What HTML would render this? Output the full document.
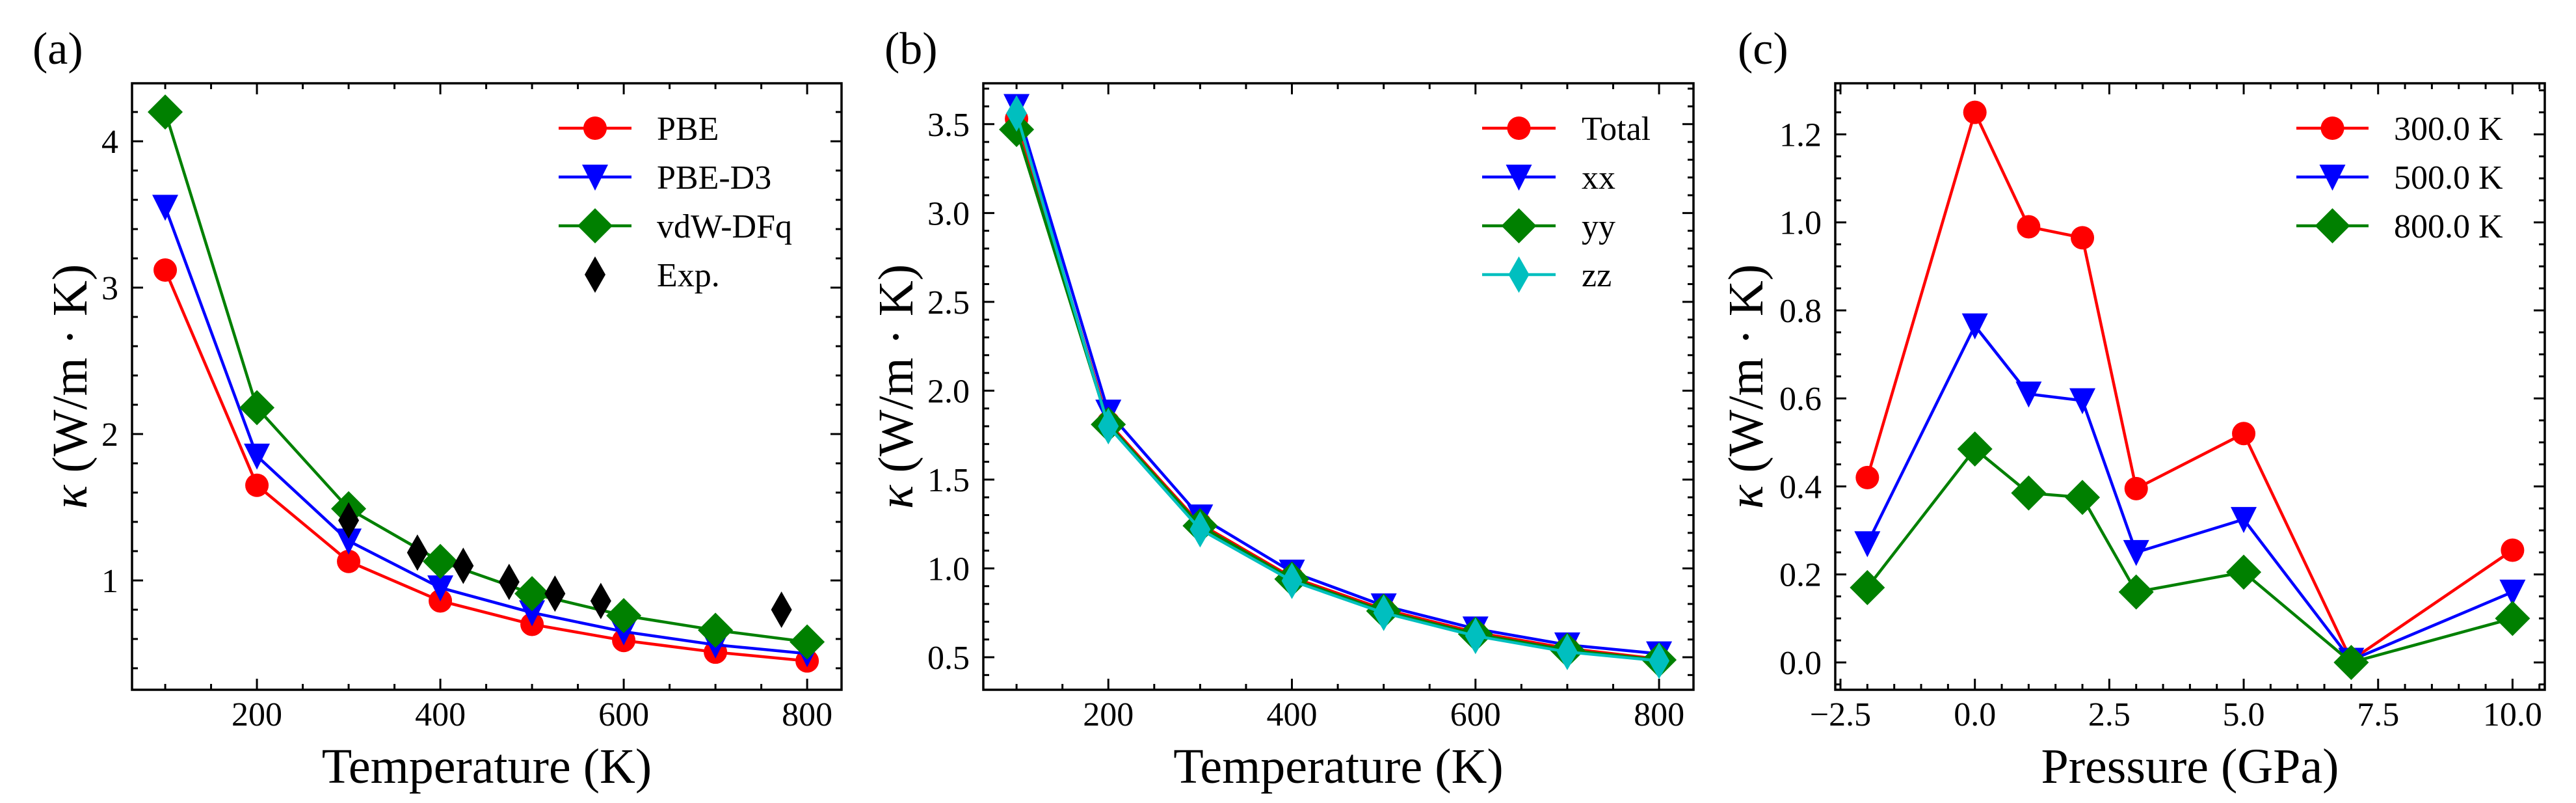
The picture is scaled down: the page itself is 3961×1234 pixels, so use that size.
<!DOCTYPE html>
<html><head><meta charset="utf-8"><style>
html,body{margin:0;padding:0;background:#fff;}
svg{display:block;}
text{font-family:"Liberation Serif","DejaVu Serif",serif;fill:#000;}
</style></head><body>
<svg id="fig" width="3961" height="1234" viewBox="0 0 3961 1234" xmlns="http://www.w3.org/2000/svg"></svg>
<script>
// ---- data ----
const tempsA = [100,200,300,400,500,600,700,800];
const pbeVals = [3.12,1.65,1.13,0.86,0.70,0.59,0.51,0.45];
const d3Vals = [3.55,1.85,1.27,0.95,0.78,0.65,0.56,0.50];
const vdwVals = [4.20,2.18,1.49,1.13,0.91,0.76,0.66,0.58];
const expTemps = [300,375,425,475,525,575,772];
const expVals = [1.41,1.19,1.10,0.99,0.91,0.86,0.80];
const tempsB = [100,200,300,400,500,600,700,800];
const totalVals = [3.53,1.82,1.25,0.95,0.77,0.64,0.55,0.49];
const xxVals = [3.60,1.88,1.29,0.98,0.79,0.66,0.57,0.52];
const yyVals = [3.47,1.81,1.24,0.94,0.76,0.63,0.54,0.485];
const zzVals = [3.56,1.80,1.22,0.93,0.75,0.62,0.53,0.48];
const pressures = [-2,0,1,2,3,5,7,10];
const k300Vals = [0.42,1.25,0.99,0.965,0.395,0.52,0.005,0.255];
const k500Vals = [0.27,0.765,0.61,0.595,0.25,0.325,0.005,0.16];
const k800Vals = [0.17,0.485,0.385,0.375,0.16,0.205,0.0,0.10];
const xTicksA = [200,400,600,800];
const yTicksA = [1,2,3,4];
const yTicksB = [0.5,1.0,1.5,2.0,2.5,3.0,3.5];
const xTicksC = [-2.5,0,2.5,5,7.5,10];
const yTicksC = [0,0.2,0.4,0.6,0.8,1.0,1.2];

const NS="http://www.w3.org/2000/svg";
const svg=document.getElementById('fig');
function mk(tag,attrs,parent){const e=document.createElementNS(NS,tag);for(const k in attrs)e.setAttribute(k,attrs[k]);(parent||svg).appendChild(e);return e;}

const TOP=128,BOT=1060;
function makeAxes(name,left,right,xmin,xmax,ymin,ymax){
  const g=mk('g',{});
  
  
  return {g,left,right,x:v=>left+(v-xmin)/(xmax-xmin)*(right-left),y:v=>BOT-(v-ymin)/(ymax-ymin)*(BOT-TOP),xmin,xmax,ymin,ymax};
}
function ticks(ax,xMajor,xMinorStep,yMajor,yMinorStep,xFmt,yFmt,yLabelAnchorX){
  const tg=mk('g',{stroke:'#000','stroke-width':3},ax.g);
  
  
  const eps=1e-9;
  for(let v=Math.ceil(ax.xmin/xMinorStep)*xMinorStep;v<=ax.xmax+eps;v+=xMinorStep){
    const X=ax.x(v);const major=xMajor.some(m=>Math.abs(m-v)<1e-6);const L=major?17:9;
    mk('line',{x1:X,y1:BOT,x2:X,y2:BOT-L},tg);mk('line',{x1:X,y1:TOP,x2:X,y2:TOP+L},tg);
  }
  for(let v=Math.ceil(ax.ymin/yMinorStep-1e-6)*yMinorStep;v<=ax.ymax+eps;v+=yMinorStep){
    const Y=ax.y(v);const major=yMajor.some(m=>Math.abs(m-v)<1e-6);const L=major?17:9;
    mk('line',{x1:ax.left,y1:Y,x2:ax.left+L,y2:Y},tg);mk('line',{x1:ax.right,y1:Y,x2:ax.right-L,y2:Y},tg);
  }
  xMajor.forEach(v=>{const t=mk('text',{x:ax.x(v),y:1115,'text-anchor':'middle','font-size':52},ax.g);t.textContent=xFmt(v);
    
    });
  yMajor.forEach(v=>{const t=mk('text',{x:ax.left-21,y:ax.y(v)+18,'text-anchor':'end','font-size':52},ax.g);t.textContent=yFmt(v);
    
    });
  const fr=mk('rect',{x:ax.left,y:TOP,width:ax.right-ax.left,height:BOT-TOP,fill:'none',stroke:'#000','stroke-width':3.5},ax.g);
  
  
}
function marker(parent,type,cx,cy,color){
  let e;
  if(type==='o')e=mk('circle',{cx,cy,r:18,fill:color},parent);
  else if(type==='v')e=mk('polygon',{points:`${cx-20},${cy-19} ${cx+20},${cy-19} ${cx},${cy+21}`,fill:color},parent);
  else if(type==='D')e=mk('polygon',{points:`${cx},${cy-27} ${cx+27},${cy} ${cx},${cy+27} ${cx-27},${cy}`,fill:color},parent);
  else e=mk('polygon',{points:`${cx},${cy-28} ${cx+16},${cy} ${cx},${cy+28} ${cx-16},${cy}`,fill:color},parent);
  return e;
}
function series(ax,name,xs,ys,color,type,line){
  const g=mk('g',{},ax.g);
  
  
  if(line){mk('polyline',{points:xs.map((x,i)=>ax.x(x)+','+ax.y(ys[i])).join(' '),fill:'none',stroke:color,'stroke-width':4.5,'stroke-linejoin':'round'},g);}
  xs.forEach((x,i)=>{const m=marker(g,type,ax.x(x),ax.y(ys[i]),color);
    
    });
}
function legend(ax,entries,lineX1,lineX2,textX){
  const g=mk('g',{},ax.g);
  
  
  entries.forEach((en,i)=>{
    const y=197+75*i;
    const eg=mk('g',{},g);
    
    
    if(en.line)mk('line',{x1:lineX1,y1:y,x2:lineX2,y2:y,stroke:en.color,'stroke-width':4.5},eg);
    marker(eg,en.type,(lineX1+lineX2)/2,y,en.color);
    const t=mk('text',{x:textX,y:y+18,'font-size':52},eg);t.textContent=en.label;
  });
}
function titles(ax,xTitle,yCenterX,panel,panelX){
  const cx=(ax.left+ax.right)/2;
  const t=mk('text',{x:cx,y:1203,'text-anchor':'middle','font-size':76},ax.g);t.textContent=xTitle;
  
  
  const cy=(TOP+BOT)/2;
  const yt=mk('text',{x:yCenterX,y:cy,'text-anchor':'middle','dominant-baseline':'central','font-size':76,transform:`rotate(-90 ${yCenterX} ${cy})`},ax.g);
  yt.innerHTML='<tspan font-style="italic">κ</tspan> (W/m · K)';
  
  
  const p=mk('text',{x:panelX,y:98,'font-size':70},ax.g);p.textContent=panel;
  
  
}
const intF=v=>String(v);
const oneF=v=>(v<0?'\u2212':'')+Math.abs(v).toFixed(1);

// Panel a
const A=makeAxes('panel-a',203,1294,63.8,837.5,0.253,4.396);
ticks(A,xTicksA,50,yTicksA,0.2,intF,intF);
series(A,'pbe-series',tempsA,pbeVals,'#ff0000','o',true);
series(A,'pbe-d3-series',tempsA,d3Vals,'#0000ff','v',true);
series(A,'vdw-dfq-series',tempsA,vdwVals,'#008000','D',true);
series(A,'exp-series',expTemps,expVals,'#000000','d',false);
legend(A,[{label:'PBE',color:'#ff0000',type:'o',line:true},{label:'PBE-D3',color:'#0000ff',type:'v',line:true},{label:'vdW-DFq',color:'#008000',type:'D',line:true},{label:'Exp.',color:'#000000',type:'d',line:false}],859,971,1010);
titles(A,'Temperature (K)',108,'(a)',50);

// Panel b
const B=makeAxes('panel-b',1512,2604,63.8,837.5,0.317,3.73);
ticks(B,xTicksA,50,yTicksB,0.1,intF,oneF);
series(B,'total-series',tempsB,totalVals,'#ff0000','o',true);
series(B,'xx-series',tempsB,xxVals,'#0000ff','v',true);
series(B,'yy-series',tempsB,yyVals,'#008000','D',true);
series(B,'zz-series',tempsB,zzVals,'#00bfbf','d',true);
legend(B,[{label:'Total',color:'#ff0000',type:'o',line:true},{label:'xx',color:'#0000ff',type:'v',line:true},{label:'yy',color:'#008000',type:'D',line:true},{label:'zz',color:'#00bfbf',type:'d',line:true}],2279,2392,2432);
titles(B,'Temperature (K)',1378,'(b)',1360);

// Panel c
const C=makeAxes('panel-c',2822,3913,-2.597,10.6,-0.0622,1.316);
ticks(C,xTicksC,0.5,yTicksC,0.05,oneF,oneF);
series(C,'k300-series',pressures,k300Vals,'#ff0000','o',true);
series(C,'k500-series',pressures,k500Vals,'#0000ff','v',true);
series(C,'k800-series',pressures,k800Vals,'#008000','D',true);
legend(C,[{label:'300.0 K',color:'#ff0000',type:'o',line:true},{label:'500.0 K',color:'#0000ff',type:'v',line:true},{label:'800.0 K',color:'#008000',type:'D',line:true}],3531,3642,3681);
titles(C,'Pressure (GPa)',2685,'(c)',2672);
</script>
</body></html>
